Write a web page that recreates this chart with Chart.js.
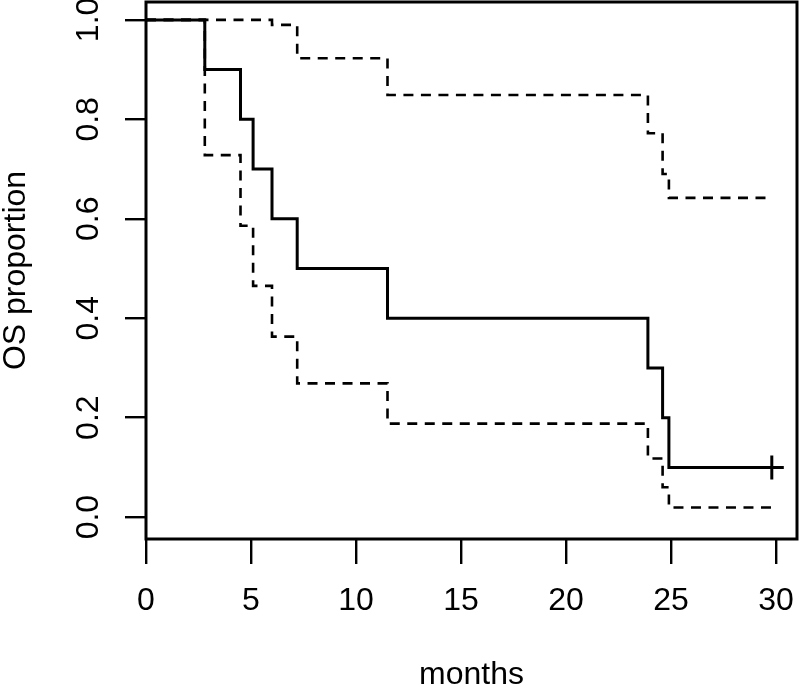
<!DOCTYPE html>
<html>
<head>
<meta charset="utf-8">
<script src="https://cdn.jsdelivr.net/npm/chart.js@4/dist/chart.umd.min.js"></script>
<style>
  html, body { margin: 0; padding: 0; background: #fff; }
  #wrap { width: 800px; height: 690px; }
</style>
</head>
<body>
<div id="wrap"><canvas id="c" width="800" height="690"></canvas></div>
<script>
// Kaplan-Meier overall survival (months) with confidence band
const months   = [0, 2.8, 4.5, 5.1, 6.0, 7.2, 11.5, 23.9, 24.6, 24.9, 29.8];
const survival = [1.0, 0.9, 0.8, 0.7, 0.6, 0.5, 0.4, 0.3, 0.2, 0.1, 0.1];
const upperCI  = [1.0, 1.0, 1.0, 1.0, 0.99, 0.923, 0.849, 0.772, 0.69, 0.642, 0.642];
const lowerCI  = [1.0, 0.728, 0.586, 0.465, 0.363, 0.269, 0.188, 0.118, 0.06, 0.0195, 0.0195];
const censorFlags = [0, 0, 0, 0, 0, 0, 0, 0, 0, 0, 1];

const xTicks = [0, 5, 10, 15, 20, 25, 30];
const yTicks = [0.0, 0.2, 0.4, 0.6, 0.8, 1.0];
const yTickLabels = ['0.0', '0.2', '0.4', '0.6', '0.8', '1.0'];
const xTitle = 'months';
const yTitle = 'OS proportion';

const toPts = (ys) => months.map((m, i) => ({ x: m, y: ys[i] }));

const FONT = 'Liberation Sans, Arial, Helvetica, sans-serif';

const boxPlugin = {
  id: 'box',
  afterDatasetsDraw(chart) {
    const { ctx, chartArea: a } = chart;
    ctx.save();
    ctx.strokeStyle = '#000';
    ctx.lineWidth = 3;
    ctx.strokeRect(a.left, a.top, a.right - a.left, a.bottom - a.top);
    ctx.restore();
  }
};

const noPad = (s) => { s.paddingTop = 0; s.paddingBottom = 0; s.paddingLeft = 0; s.paddingRight = 0; };

new Chart(document.getElementById('c'), {
  type: 'line',
  data: {
    datasets: [
      {
        label: 'OS',
        data: toPts(survival),
        stepped: 'before',
        borderColor: '#000',
        borderWidth: 3,
        fill: false,
        pointStyle: 'cross',
        pointRadius: censorFlags.map(f => f ? 12 : 0),
        pointBorderWidth: 3,
        pointBorderColor: '#000',
        pointHoverRadius: 0
      },
      {
        label: 'upper',
        data: toPts(upperCI),
        stepped: 'before',
        borderColor: '#000',
        borderWidth: 2.6,
        borderDash: [10, 7.5],
        fill: false,
        pointRadius: 0
      },
      {
        label: 'lower',
        data: toPts(lowerCI),
        stepped: 'before',
        borderColor: '#000',
        borderWidth: 2.6,
        borderDash: [10, 7.5],
        fill: false,
        pointRadius: 0
      }
    ]
  },
  options: {
    responsive: false,
    animation: false,
    devicePixelRatio: 1,
    layout: { autoPadding: false, padding: { top: 2, right: 3, left: 0, bottom: 0 } },
    plugins: { legend: { display: false }, tooltip: { enabled: false } },
    events: [],
    scales: {
      x: {
        type: 'linear',
        min: 0,
        max: 31,
        afterBuildTicks: (s) => { s.ticks = xTicks.map(v => ({ value: v })); },
        afterFit: (s) => { s.height = 151; noPad(s); },
        border: { display: false },
        grid: { drawOnChartArea: false, color: '#000', lineWidth: 2.4, tickLength: 25, tickColor: '#000' },
        ticks: { color: '#000', font: { family: FONT, size: 32 }, padding: 18, maxRotation: 0, minRotation: 0 },
        title: { display: true, text: xTitle, color: '#000', font: { family: FONT, size: 32, lineHeight: 0.9 }, padding: { top: 0, bottom: 0 } }
      },
      y: {
        type: 'linear',
        min: -0.044,
        max: 1.036,
        afterBuildTicks: (s) => { s.ticks = yTicks.map(v => ({ value: v })); },
        afterFit: (s) => { s.width = 146; noPad(s); },
        border: { display: false },
        grid: { drawOnChartArea: false, color: '#000', lineWidth: 2.4, tickLength: 21, tickColor: '#000' },
        ticks: {
          color: '#000', font: { family: FONT, size: 32 }, padding: 14,
          minRotation: 90, maxRotation: 90, crossAlign: 'center',
          callback: (v) => { const i = yTicks.indexOf(v); return i >= 0 ? yTickLabels[i] : ''; }
        },
        title: { display: true, text: yTitle, color: '#000', font: { family: FONT, size: 32, lineHeight: 0.9 }, padding: { top: 2, bottom: 0 } }
      }
    }
  },
  plugins: [boxPlugin]
});
</script>
</body>
</html>
